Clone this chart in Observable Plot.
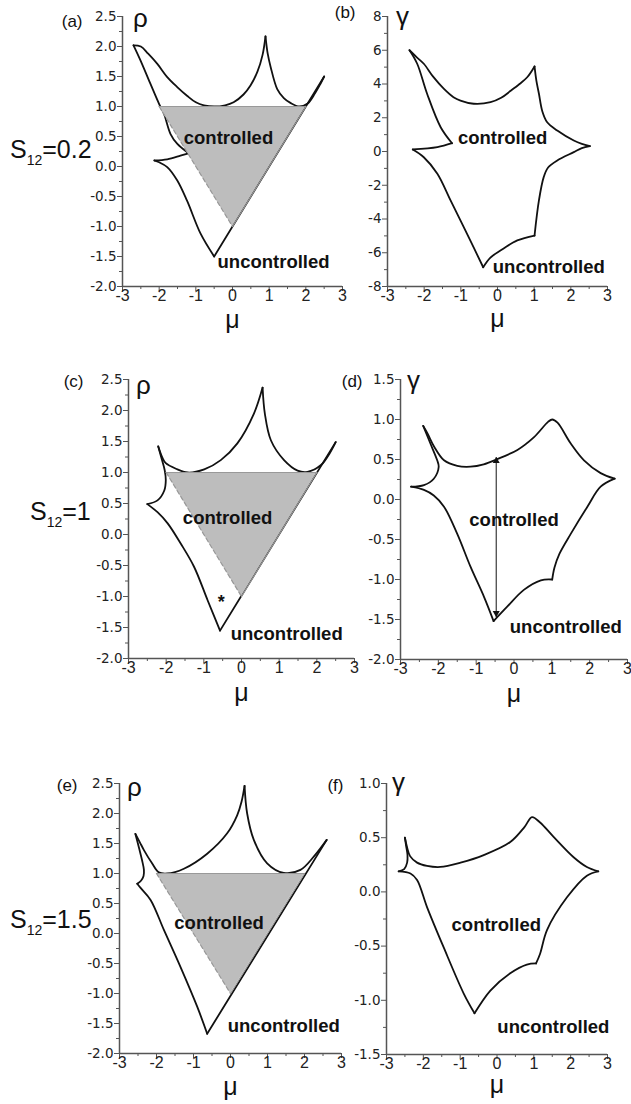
<!DOCTYPE html>
<html><head><meta charset="utf-8">
<script src="https://cdn.jsdelivr.net/npm/d3@7"></script>
<script src="https://cdn.jsdelivr.net/npm/@observablehq/plot@0.6"></script>
<style>
html,body{margin:0;padding:0;background:#fff;}
#fig{position:relative;width:631px;height:1104px;overflow:hidden;background:#fff;font-family:"Liberation Sans",Arial,Helvetica,sans-serif;color:#111;}
#fig svg{position:absolute;overflow:visible;background:transparent;}
.s12{position:absolute;font-size:25px;line-height:25px;white-space:nowrap;color:#111;}
.s12 sub{font-size:14px;vertical-align:-7px;line-height:0;}
</style></head><body><div id="fig"></div>
<script>
// ---------- tick values ----------
const muMajor = [-3, -2, -1, 0, 1, 2, 3];
const muMinor = [-2.5, -1.5, -0.5, 0.5, 1.5, 2.5];
const rhoMajor = [-2, -1.5, -1, -0.5, 0, 0.5, 1, 1.5, 2, 2.5];
const rhoMinor = [-1.75, -1.25, -0.75, -0.25, 0.25, 0.75, 1.25, 1.75, 2.25];
const gammaBMajor = [-8, -6, -4, -2, 0, 2, 4, 6, 8];
const gammaBMinor = [-7, -5, -3, -1, 1, 3, 5, 7];
const gammaDMajor = [-2, -1.5, -1, -0.5, 0, 0.5, 1, 1.5];
const gammaDMinor = [-1.75, -1.25, -0.75, -0.25, 0.25, 0.75, 1.25];
const gammaFMajor = [-1.5, -1, -0.5, 0, 0.5, 1];
const gammaFMinor = [-1.25, -0.75, -0.25, 0.25, 0.75];

// ---------- shaded "controlled" triangle (mu, lower rho, upper rho) ----------
const triMu = [-2, 0, 2];
const triLow = [1, -1, 1];
const triHigh = [1, 1, 1];

// ---------- curves: arcs of [mu, value] between cusps ----------
const arcsA = [
  [[-2.7,2.02],[-2.5,2.0],[-2.3,1.88],[-2.05,1.71],[-1.78,1.49],[-1.5,1.32],[-1.24,1.18],[-1.0,1.07],[-0.78,1.02],[-0.5,1.0],[-0.2,1.02],[0.03,1.07],[0.3,1.2],[0.49,1.35],[0.68,1.58],[0.82,1.86],[0.9,2.17]],
  [[0.9,2.17],[0.96,1.88],[1.04,1.66],[1.22,1.29],[1.4,1.14],[1.58,1.06],[1.82,1.0],[2.05,1.05],[2.25,1.22],[2.4,1.38],[2.5,1.5]],
  [[2.5,1.5],[-0.5,-1.5]],
  [[-0.5,-1.5],[-0.87,-1.12],[-1.24,-0.57],[-1.51,-0.23],[-1.78,-0.01],[-2.0,0.07],[-2.13,0.1]],
  [[-2.13,0.1],[-1.78,0.12],[-1.42,0.18],[-1.2,0.22]],
  [[-1.2,0.22],[-1.51,0.38],[-1.69,0.54],[-1.87,0.88],[-2.0,1.04],[-2.24,1.38],[-2.51,1.77],[-2.7,2.02]]
];
const arcsB = [
  [[-2.4,6.0],[-2.2,5.58],[-2.01,5.2],[-1.75,4.42],[-1.46,3.71],[-1.2,3.22],[-1.01,3.02],[-0.65,2.83],[-0.19,2.92],[0.1,3.18],[0.35,3.58],[0.6,4.0],[0.81,4.4],[1.01,5.04]],
  [[1.01,5.04],[1.06,4.2],[1.13,3.42],[1.22,2.4],[1.35,1.75],[1.63,1.24],[2.08,0.65],[2.3,0.45],[2.52,0.32]],
  [[2.52,0.32],[2.3,0.2],[2.08,-0.04],[1.63,-0.53],[1.38,-0.95],[1.26,-1.52],[1.13,-2.9],[1.01,-4.98]],
  [[1.01,-4.98],[0.54,-5.27],[0.08,-5.87],[-0.2,-6.3],[-0.39,-6.86]],
  [[-0.39,-6.86],[-0.83,-4.88],[-1.28,-2.9],[-1.64,-1.32],[-2.01,-0.34],[-2.31,0.12]],
  [[-2.31,0.12],[-1.64,0.26],[-1.24,0.49]],
  [[-1.24,0.49],[-1.55,1.44],[-1.92,3.42],[-2.19,5.2],[-2.4,6.0]]
];
const arcsC = [
  [[-2.5,0.49],[-2.23,0.55],[-2.05,0.71],[-2.01,0.88],[-2.04,1.04],[-2.12,1.22],[-2.21,1.42]],
  [[-2.21,1.42],[-2.1,1.24],[-2.01,1.15],[-1.74,1.06],[-1.43,1.0],[-0.99,1.05],[-0.55,1.2],[-0.11,1.47],[0.33,1.95],[0.56,2.37]],
  [[0.56,2.37],[0.62,1.95],[0.78,1.52],[1.13,1.2],[1.49,1.03],[1.75,1.01],[2.11,1.12],[2.35,1.32],[2.5,1.49]],
  [[2.5,1.49],[-0.57,-1.55]],
  [[-0.57,-1.55],[-0.9,-1.06],[-1.26,-0.52],[-1.61,-0.15],[-1.96,0.18],[-2.23,0.36],[-2.5,0.49]]
];
const arcsD = [
  [[-2.4,0.92],[-2.21,0.70],[-2.03,0.49],[-1.99,0.41],[-2.12,0.26],[-2.38,0.18],[-2.72,0.16]],
  [[-2.4,0.92],[-2.29,0.83],[-2.11,0.66],[-1.85,0.49],[-1.5,0.42],[-1.15,0.41],[-0.8,0.44],[-0.47,0.5],[0.09,0.62],[0.53,0.78],[0.9,0.97],[1.01,1.0],[1.15,0.96],[1.5,0.70],[1.85,0.49],[2.29,0.33],[2.66,0.26]],
  [[2.66,0.26],[2.29,0.16],[1.94,-0.09],[1.5,-0.43],[1.2,-0.68],[1.07,-0.85],[1.01,-1.0]],
  [[1.01,-1.0],[0.71,-1.01],[0.26,-1.13],[-0.18,-1.34],[-0.54,-1.52]],
  [[-0.54,-1.52],[-0.79,-1.22],[-1.15,-0.84],[-1.5,-0.43],[-1.85,-0.09],[-2.12,0.05],[-2.38,0.12],[-2.72,0.16]]
];
const arcsE = [
  [[-2.52,0.83],[-2.42,0.88],[-2.35,0.96],[-2.34,1.06],[-2.39,1.22],[-2.47,1.42],[-2.57,1.66]],
  [[-2.57,1.66],[-2.45,1.52],[-2.34,1.39],[-2.12,1.17],[-1.94,1.02],[-1.71,1.0],[-1.26,1.08],[-0.63,1.33],[-0.09,1.67],[0.18,1.97],[0.3,2.2],[0.38,2.46]],
  [[0.38,2.46],[0.45,2.0],[0.63,1.56],[0.99,1.17],[1.44,1.01],[1.89,1.06],[2.25,1.28],[2.6,1.56]],
  [[2.6,1.56],[-0.63,-1.67]],
  [[-0.63,-1.67],[-0.9,-1.22],[-1.35,-0.56],[-1.8,0.06],[-2.16,0.56],[-2.43,0.76],[-2.52,0.83]]
];
const arcsF = [
  [[-2.5,0.5],[-2.44,0.41],[-2.36,0.33],[-2.17,0.27],[-1.9,0.24],[-1.54,0.23],[-0.99,0.27],[-0.36,0.34],[0.36,0.46],[0.75,0.6],[0.95,0.69],[1.17,0.64],[1.53,0.51],[2.08,0.32],[2.44,0.23],[2.75,0.19]],
  [[2.75,0.19],[2.44,0.15],[1.9,-0.05],[1.36,-0.35],[1.17,-0.57],[1.06,-0.66]],
  [[1.06,-0.66],[0.81,-0.67],[0.36,-0.75],[-0.18,-0.91],[-0.61,-1.12]],
  [[-0.61,-1.12],[-0.9,-0.94],[-1.45,-0.51],[-1.9,-0.14],[-2.17,0.11],[-2.35,0.17],[-2.67,0.19]],
  [[-2.67,0.19],[-2.52,0.21],[-2.44,0.27],[-2.43,0.34],[-2.47,0.43],[-2.5,0.5]]
];

// ---------- text labels in data coordinates ----------
const labelsA = [{mu:-0.11, v:0.47, t:"controlled"}, {mu:1.12, v:-1.6, t:"uncontrolled"}];
const labelsB = [{mu:0.14, v:0.81, t:"controlled"}, {mu:1.4, v:-6.86, t:"uncontrolled"}];
const labelsC = [{mu:-0.37, v:0.27, t:"controlled"}, {mu:1.2, v:-1.61, t:"uncontrolled"}];
const labelsD = [{mu:0.0, v:-0.26, t:"controlled"}, {mu:1.37, v:-1.59, t:"uncontrolled"}];
const labelsE = [{mu:-0.31, v:0.18, t:"controlled"}, {mu:1.44, v:-1.55, t:"uncontrolled"}];
const labelsF = [{mu:-0.02, v:-0.31, t:"controlled"}, {mu:1.53, v:-1.25, t:"uncontrolled"}];
const starC = [{mu:-0.54, v:-1.03, t:"*"}];
// double arrow in (d)
const arrowD = [{mu:-0.47, from:-1.47, to:0.53}];

const fig = document.getElementById("fig");
const FONT = '"Liberation Sans", Arial, Helvetica, sans-serif';
const TICKFONT = '"DejaVu Sans", "Liberation Sans", Arial, sans-serif';
const AX = "#555";

function rowsOf(arcs) {
  const r = [];
  arcs.forEach((a, i) => a.forEach(p => r.push({arc: i, mu: p[0], v: p[1]})));
  return r;
}

function makePanel(c) {
  const marks = [];
  marks.push(Plot.line(rowsOf(c.arcs), {x: "mu", y: "v", z: "arc", curve: "catmull-rom", stroke: "#111", strokeWidth: 1.8}));
  if (c.triangle) {
    const tri = triMu.map((m, i) => ({mu: m, lo: triLow[i], hi: triHigh[i]}));
    marks.push(Plot.areaY(tri, {x: "mu", y1: "lo", y2: "hi", fill: "#bdbdbd", curve: "linear"}));
    marks.push(Plot.line([{mu: tri[0].mu, v: tri[0].hi}, {mu: tri[2].mu, v: tri[2].hi}], {x: "mu", y: "v", stroke: "#999", strokeWidth: 1.2}));
    marks.push(Plot.line([{mu: tri[1].mu, v: tri[1].lo}, {mu: tri[2].mu, v: tri[2].lo}], {x: "mu", y: "v", stroke: "#999", strokeWidth: 1.2}));
    marks.push(Plot.line([{mu: tri[0].mu, v: tri[0].lo}, {mu: tri[1].mu, v: tri[1].lo}], {x: "mu", y: "v", stroke: "#999", strokeWidth: 1.2, strokeDasharray: "4,3"}));
  }
  if (c.arrow) {
    marks.push(Plot.link(c.arrow, {x1: "mu", x2: "mu", y1: "from", y2: "to", stroke: "#111", strokeWidth: 1}));
    marks.push(Plot.dot(c.arrow, {x: "mu", y: "to", symbol: "triangle", r: 2.6, fill: "#111", stroke: null, dy: 4}));
    marks.push(Plot.dot(c.arrow, {x: "mu", y: "from", symbol: "triangle", r: 2.6, fill: "#111", stroke: null, rotate: 180, dy: -4}));
  }
  // axes
  marks.push(Plot.axisX({ticks: muMajor, tickSize: 5, tickPadding: -2, tickFormat: d => String(d), label: null, stroke: AX, fontSize: 16}));
  marks.push(Plot.axisX({ticks: muMinor, tickSize: 3, tickFormat: () => "", label: null, stroke: AX}));
  marks.push(Plot.axisY({ticks: c.yMajor, tickSize: 5, tickPadding: 1, tickFormat: c.yFmt, label: null, stroke: AX, fontSize: 13.5, fontFamily: TICKFONT}));
  marks.push(Plot.axisY({ticks: c.yMinor, tickSize: 3, tickFormat: () => "", label: null, stroke: AX}));
  marks.push(Plot.ruleX([-3], {stroke: AX, strokeWidth: 1.5}));
  marks.push(Plot.ruleY([c.yDomain[0]], {stroke: AX, strokeWidth: 1.5}));
  // labels
  marks.push(Plot.text(c.labels, {x: "mu", y: "v", text: "t", fontSize: 18.5, fontWeight: "bold", fill: "#111"}));
  if (c.star) marks.push(Plot.text(c.star, {x: "mu", y: "v", text: "t", fontSize: 18, fontWeight: "bold", fill: "#111", dy: 4}));
  marks.push(Plot.text([c.letter], {frameAnchor: "top-left", lineAnchor: "middle", text: d => d, dx: c.letterDx, dy: c.letterDy, textAnchor: "end", fontSize: 17, fill: "#111"}));
  marks.push(Plot.text([c.ylab], {frameAnchor: "top-left", lineAnchor: "middle", text: d => d, dx: c.ylabDx, dy: c.ylabDy, textAnchor: "middle", fontSize: 26, fill: "#111"}));
  marks.push(Plot.text(["μ"], {frameAnchor: "bottom", lineAnchor: "middle", text: d => d, dy: c.xlabDy, textAnchor: "middle", fontSize: 25, fill: "#111"}));

  const svg = Plot.plot({
    width: c.width, height: c.height,
    marginTop: c.m[0], marginRight: c.m[1], marginBottom: c.m[2], marginLeft: c.m[3],
    x: {domain: [-3, 3]},
    y: {domain: c.yDomain},
    style: {fontFamily: FONT, fontSize: "15px", background: "transparent", overflow: "visible", color: "#222"},
    marks
  });
  svg.style.left = c.left + "px";
  svg.style.top = c.top + "px";
  fig.appendChild(svg);
}

const fmt1 = d => d.toFixed(1);
const fmt0 = d => String(d);

makePanel({left: 0, top: 0, width: 360, height: 345, m: [16, 18, 59, 122], yDomain: [-2, 2.5], yMajor: rhoMajor, yMinor: rhoMinor, yFmt: fmt1,
  arcs: arcsA, triangle: true, labels: labelsA, letter: "(a)", letterDx: -40, letterDy: 5, ylab: "ρ", ylabDx: 18, ylabDy: 2, xlabDy: 33});
makePanel({left: 310, top: 0, width: 321, height: 345, m: [16, 24, 59, 77], yDomain: [-8, 8], yMajor: gammaBMajor, yMinor: gammaBMinor, yFmt: fmt0,
  arcs: arcsB, labels: labelsB, letter: "(b)", letterDx: -32, letterDy: -4, ylab: "γ", ylabDx: 15, ylabDy: 0, xlabDy: 32});
makePanel({left: 0, top: 360, width: 360, height: 345, m: [19, 6, 47, 128], yDomain: [-2, 2.5], yMajor: rhoMajor, yMinor: rhoMinor, yFmt: fmt1,
  arcs: arcsC, triangle: true, labels: labelsC, star: starC, letter: "(c)", letterDx: -45, letterDy: 2, ylab: "ρ", ylabDx: 15, ylabDy: 6, xlabDy: 34});
makePanel({left: 310, top: 360, width: 321, height: 345, m: [19, 4, 46, 90], yDomain: [-2, 1.5], yMajor: gammaDMajor, yMinor: gammaDMinor, yFmt: fmt1,
  arcs: arcsD, arrow: arrowD, labels: labelsD, letter: "(d)", letterDx: -38, letterDy: 2, ylab: "γ", ylabDx: 13, ylabDy: 1, xlabDy: 34});
makePanel({left: 0, top: 740, width: 360, height: 364, m: [43, 19, 51, 119], yDomain: [-2, 2.5], yMajor: rhoMajor, yMinor: rhoMinor, yFmt: fmt1,
  arcs: arcsE, triangle: true, labels: labelsE, letter: "(e)", letterDx: -42, letterDy: 2, ylab: "ρ", ylabDx: 15, ylabDy: 4, xlabDy: 33});
makePanel({left: 310, top: 740, width: 321, height: 364, m: [43, 24, 50, 76], yDomain: [-1.5, 1], yMajor: gammaFMajor, yMinor: gammaFMinor, yFmt: fmt1,
  arcs: arcsF, labels: labelsF, letter: "(f)", letterDx: -43, letterDy: 2, ylab: "γ", ylabDx: 12, ylabDy: -1, xlabDy: 30});

// row labels S12 = ...
const s12Values = ["0.2", "1", "1.5"];
const s12Pos = [{left: 10, top: 137}, {left: 30, top: 499}, {left: 10, top: 907}];
s12Values.forEach((v, i) => {
  const d = document.createElement("div");
  d.className = "s12";
  d.style.left = s12Pos[i].left + "px";
  d.style.top = s12Pos[i].top + "px";
  d.innerHTML = "S<sub>12</sub>=" + v;
  fig.appendChild(d);
});
</script></body></html>
